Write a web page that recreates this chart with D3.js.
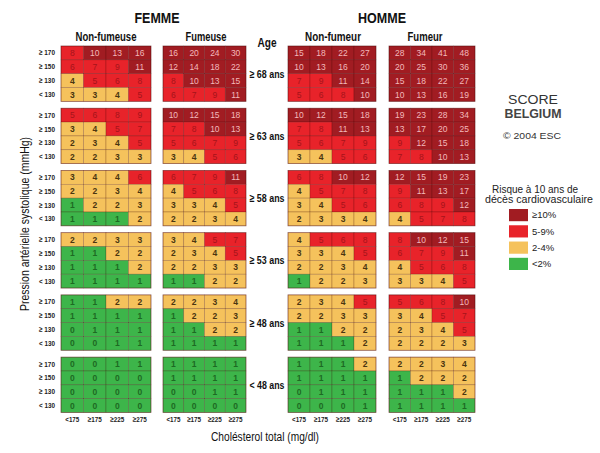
<!DOCTYPE html>
<html><head><meta charset="utf-8">
<script src="https://cdn.jsdelivr.net/npm/d3@7/dist/d3.min.js"></script>
<style>
body{margin:0;background:#fff;}
svg{display:block;font-family:"Liberation Sans",Arial,sans-serif;}
</style></head>
<body><svg id="c" width="600" height="453"></svg>
<script>
// ---- data ----
const ages = ["≥ 68 ans","≥ 63 ans","≥ 58 ans","≥ 53 ans","≥ 48 ans","< 48 ans"];
const bpLabels = ["≥ 170","≥ 150","≥ 130","< 130"];
const cholLabels = ["<175","≥175","≥225","≥275"];
const panelTitles = ["Non-fumeuse","Fumeuse","Non-fumeur","Fumeur"];
const legendLabels = ["≥10%","5-9%","2-4%","<2%"];

const femmeNonFumeuse = [
  [[8,10,13,16],[6,7,9,11],[4,5,6,8],[3,3,4,5]],
  [[5,6,8,9],[3,4,5,7],[2,3,4,5],[2,2,3,3]],
  [[3,4,4,6],[2,2,3,4],[1,2,2,3],[1,1,1,2]],
  [[2,2,3,3],[1,1,2,2],[1,1,1,2],[1,1,1,1]],
  [[1,1,2,2],[1,1,1,1],[0,1,1,1],[0,0,1,1]],
  [[0,0,1,1],[0,0,0,0],[0,0,0,0],[0,0,0,0]]
];
const femmeFumeuse = [
  [[16,20,24,30],[12,14,18,22],[8,10,13,15],[6,7,9,11]],
  [[10,12,15,18],[7,8,10,13],[5,6,7,9],[3,4,5,6]],
  [[6,7,9,11],[4,5,6,8],[3,3,4,5],[2,2,3,4]],
  [[3,4,5,7],[2,3,4,5],[2,2,3,3],[1,1,2,2]],
  [[2,2,3,4],[1,2,2,3],[1,1,2,2],[1,1,1,1]],
  [[1,1,1,1],[1,1,1,1],[0,0,1,1],[0,0,0,0]]
];
const hommeNonFumeur = [
  [[15,18,22,27],[10,13,16,20],[7,9,11,14],[5,6,8,10]],
  [[10,12,15,18],[7,8,11,13],[5,6,7,9],[3,4,5,6]],
  [[6,8,10,12],[4,5,7,8],[3,4,5,6],[2,3,3,4]],
  [[4,5,6,8],[3,3,4,5],[2,2,3,4],[1,2,2,3]],
  [[2,3,4,5],[2,2,3,3],[1,1,2,2],[1,1,1,2]],
  [[1,1,1,2],[1,1,1,1],[0,1,1,1],[0,0,0,1]]
];
const hommeFumeur = [
  [[28,34,41,48],[20,25,30,36],[15,18,22,27],[10,13,16,19]],
  [[19,23,28,34],[13,17,20,25],[9,12,15,18],[7,8,10,13]],
  [[12,15,19,23],[9,11,13,17],[6,8,9,12],[4,5,7,8]],
  [[8,10,12,15],[6,7,9,11],[4,5,6,8],[3,3,4,5]],
  [[5,6,8,10],[3,4,5,7],[2,3,4,5],[2,2,2,3]],
  [[2,2,3,4],[1,2,2,2],[1,1,1,2],[1,1,1,1]]
];
const riskThresholds = [2,5,10];

// ---- layout ----
const svg = d3.select("#c");
const narrow = (sel, w) => sel.attr("textLength", w).attr("lengthAdjust", "spacingAndGlyphs");
const panels = [
  {data: femmeNonFumeuse, x0: 61, x1: 151, tw: 61, tx: 106},
  {data: femmeFumeuse, x0: 163, x1: 246, tw: 41, tx: 206},
  {data: hommeNonFumeur, x0: 288, x1: 376, tw: 56, tx: 333},
  {data: hommeFumeur, x0: 389, x1: 475, tw: 35, tx: 425}
];
const fills = ["#3db54a","#f5c25c","#e8232a","#a11c22"];
const textCols = ["#1d6a23","#4a3510","#a5141a","#f2b9bb"];
const color = d3.scaleThreshold().domain(riskThresholds).range(fills);
const tcolor = d3.scaleThreshold().domain(riskThresholds).range(textCols);

const yAge = d3.scaleBand().domain(d3.range(ages.length)).range([46, 412.5]).paddingInner(0.11);
const yRow = d3.scaleBand().domain(d3.range(bpLabels.length)).range([0, yAge.bandwidth()]);

panels.forEach((p, pi) => {
  const xCol = d3.scaleBand().domain(d3.range(cholLabels.length)).range([p.x0, p.x1]);
  const g = svg.append("g");
  p.data.forEach((block, ai) => {
    const bg = g.append("g").attr("transform", `translate(0,${yAge(ai)})`);
    block.forEach((row, ri) => {
      row.forEach((v, ci) => {
        bg.append("rect")
          .attr("x", xCol(ci)).attr("y", yRow(ri))
          .attr("width", xCol.bandwidth()).attr("height", yRow.bandwidth())
          .attr("fill", color(v))
          .attr("stroke", "rgba(60,0,0,0.35)").attr("stroke-width", 0.6);
        bg.append("text")
          .attr("x", xCol(ci) + xCol.bandwidth()/2)
          .attr("y", yRow(ri) + yRow.bandwidth()/2)
          .attr("dy", "0.36em").attr("text-anchor", "middle")
          .attr("font-size", 8.5)
          .attr("font-weight", v < 5 ? "bold" : "normal")
          .attr("fill", tcolor(v)).text(v);
      });
    });
    bg.append("rect").attr("x", p.x0).attr("y", 0)
      .attr("width", p.x1 - p.x0).attr("height", yAge.bandwidth())
      .attr("fill", "none").attr("stroke", "rgba(90,10,10,0.45)").attr("stroke-width", 0.8);
  });
  // panel title
  svg.append("text").attr("x", p.tx).attr("y", 41)
    .attr("text-anchor", "middle").attr("font-size", 12.5).attr("font-weight", "bold")
    .attr("fill", "#111").text(panelTitles[pi]).call(narrow, p.tw);
  // chol ticks
  const xAxis = d3.axisBottom(xCol).tickFormat(i => cholLabels[i]).tickSize(0).tickPadding(0);
  const ax = svg.append("g").attr("transform", `translate(0,416)`).call(xAxis);
  ax.select(".domain").remove();
  ax.selectAll("text").attr("font-size", 8).attr("font-weight", "bold").attr("fill", "#222")
    .call(narrow, 14);
});

// BP labels per age block
ages.forEach((a, ai) => {
  const yAxis = d3.axisLeft(yRow).tickFormat(i => bpLabels[i]).tickSize(0).tickPadding(0);
  const ax = svg.append("g").attr("transform", `translate(55,${yAge(ai)})`).call(yAxis);
  ax.select(".domain").remove();
  ax.selectAll("text").attr("font-size", 8).attr("font-weight", "bold").attr("fill", "#222")
    .call(narrow, 16);
  svg.append("text").attr("x", 267).attr("y", yAge(ai) + yAge.bandwidth()/2)
    .attr("dy", "0.35em").attr("text-anchor", "middle")
    .attr("font-size", 11.5).attr("font-weight", "bold").attr("fill", "#111").text(a)
    .call(narrow, 35);
});

// headers
svg.append("text").attr("x", 157).attr("y", 23).attr("text-anchor", "middle")
  .attr("font-size", 14.5).attr("font-weight", "bold").attr("fill", "#111")
  .text("FEMME").call(narrow, 45);
svg.append("text").attr("x", 382).attr("y", 23).attr("text-anchor", "middle")
  .attr("font-size", 14.5).attr("font-weight", "bold").attr("fill", "#111")
  .text("HOMME").call(narrow, 48);
svg.append("text").attr("x", 267).attr("y", 47).attr("text-anchor", "middle")
  .attr("font-size", 12).attr("font-weight", "bold").attr("fill", "#111").text("Age").call(narrow, 19);

// axis titles
svg.append("text").attr("x", 265).attr("y", 441).attr("text-anchor", "middle")
  .attr("font-size", 12.5).attr("fill", "#111").text("Cholésterol total (mg/dl)").call(narrow, 108);
svg.append("text").attr("transform", "translate(29,224) rotate(-90)").attr("text-anchor", "middle")
  .attr("font-size", 12.5).attr("fill", "#111").text("Pression artérielle systolique (mmHg)")
  .call(narrow, 174);

// right side branding
svg.append("text").attr("x", 533).attr("y", 104).attr("text-anchor", "middle")
  .attr("font-size", 12).attr("fill", "#333").text("SCORE").call(narrow, 50);
svg.append("text").attr("x", 533).attr("y", 118).attr("text-anchor", "middle")
  .attr("font-size", 12).attr("font-weight", "bold").attr("fill", "#444").text("BELGIUM").call(narrow, 57);
svg.append("text").attr("x", 532).attr("y", 139).attr("text-anchor", "middle")
  .attr("font-size", 9.5).attr("fill", "#333").text("© 2004 ESC").call(narrow, 58);
svg.append("text").attr("x", 535).attr("y", 193).attr("text-anchor", "middle")
  .attr("font-size", 10).attr("fill", "#222").text("Risque à 10 ans de").call(narrow, 86);
svg.append("text").attr("x", 539).attr("y", 203).attr("text-anchor", "middle")
  .attr("font-size", 10).attr("fill", "#222").text("décès cardiovasculaire").call(narrow, 108);

// legend
const legVals = [10, 5, 2, 0];
const yLeg = d3.scaleBand().domain(d3.range(legendLabels.length)).range([209, 270]).paddingInner(0.25);
legendLabels.forEach((l, i) => {
  svg.append("rect").attr("x", 509).attr("y", yLeg(i)).attr("width", 19).attr("height", yLeg.bandwidth())
    .attr("fill", color(legVals[i]));
  svg.append("text").attr("x", 532).attr("y", yLeg(i) + yLeg.bandwidth()/2).attr("dy", "0.35em")
    .attr("font-size", 9.5).attr("fill", "#222").text(l);
});
</script></body></html>
